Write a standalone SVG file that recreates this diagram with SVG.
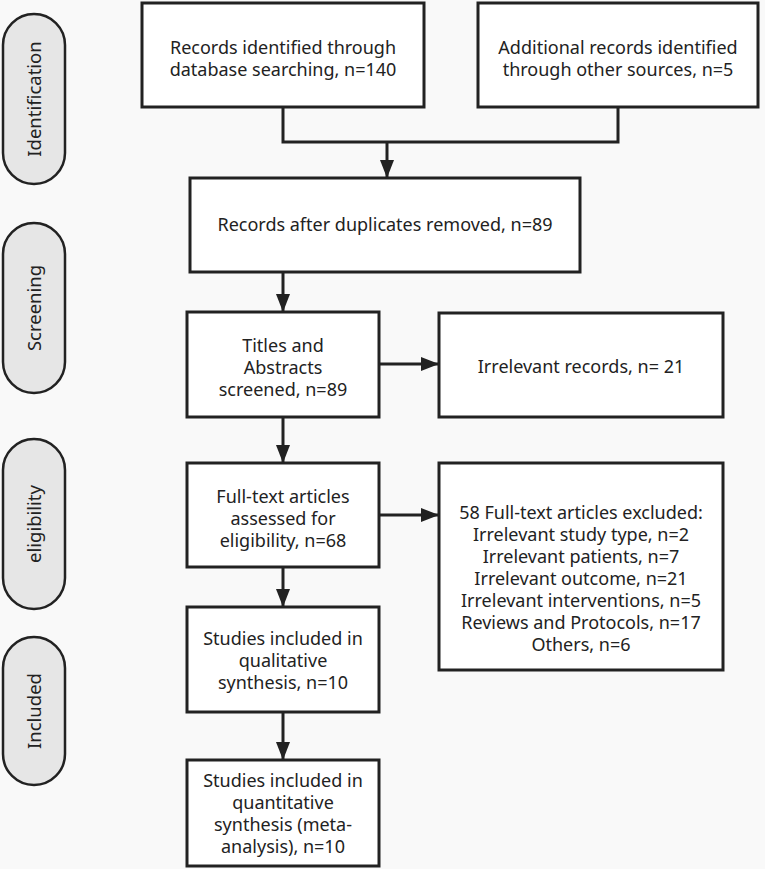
<svg xmlns="http://www.w3.org/2000/svg" width="765" height="869" viewBox="0 0 765 869">
<defs>
<style>
.bx{fill:#ffffff;stroke:#222;stroke-width:3}
.pill{fill:#e6e6e6;stroke:#222;stroke-width:2.5}
.t{font-family:"Noto Sans","Open Sans",sans-serif;font-size:18px;fill:#222;text-anchor:middle}
.s{font-family:"Noto Sans","Open Sans",sans-serif;font-size:18.5px;fill:#222;text-anchor:middle}
.ln{fill:none;stroke:#222;stroke-width:3}
</style>
<marker id="ah" viewBox="0 0 18 14" refX="18" refY="7" markerWidth="18" markerHeight="14" markerUnits="userSpaceOnUse" orient="auto">
<path d="M0,0 L18,7 L0,14 Z" fill="#222"/>
</marker>
</defs>
<rect width="765" height="869" fill="#f9f9f9"/>
<g id="stage-identification"><rect class="pill" x="3" y="14" width="62" height="170" rx="31"/><text class="s" transform="translate(41,99) rotate(-90)">Identification</text></g>
<g id="stage-screening"><rect class="pill" x="3" y="223" width="62" height="170" rx="31"/><text class="s" transform="translate(41,308) rotate(-90)">Screening</text></g>
<g id="stage-eligibility"><rect class="pill" x="3" y="439" width="62" height="170" rx="31"/><text class="s" transform="translate(41,524) rotate(-90)">eligibility</text></g>
<g id="stage-included"><rect class="pill" x="3" y="637" width="62" height="148" rx="31"/><text class="s" transform="translate(41,711) rotate(-90)">Included</text></g>

<g id="connectors">
<path class="ln" d="M283,107 V142 H618 V107"/>
<path class="ln" d="M387,142 V178" marker-end="url(#ah)"/>
<path class="ln" d="M283,272 V312" marker-end="url(#ah)"/>
<path class="ln" d="M379,364 H439" marker-end="url(#ah)"/>
<path class="ln" d="M283,417 V463" marker-end="url(#ah)"/>
<path class="ln" d="M379,515 H439" marker-end="url(#ah)"/>
<path class="ln" d="M283,567 V607" marker-end="url(#ah)"/>
<path class="ln" d="M283,712 V760" marker-end="url(#ah)"/>
</g>

<g id="n1"><rect class="bx" x="142" y="3" width="282" height="104"/><text class="t" x="283" y="54">Records identified through</text><text class="t" x="283" y="76">database searching, n=140</text></g>
<g id="n2"><rect class="bx" x="478" y="3" width="280" height="104"/><text class="t" x="618" y="54">Additional records identified</text><text class="t" x="618" y="76">through other sources, n=5</text></g>
<g id="n3"><rect class="bx" x="190" y="178" width="390" height="94"/><text class="t" x="385" y="231">Records after duplicates removed, n=89</text></g>
<g id="n4"><rect class="bx" x="187" y="312" width="192" height="105"/><text class="t" x="283" y="352">Titles and</text><text class="t" x="283" y="374">Abstracts</text><text class="t" x="283" y="396">screened, n=89</text></g>
<g id="n5"><rect class="bx" x="439" y="313" width="284" height="104"/><text class="t" x="581" y="373">Irrelevant records, n= 21</text></g>
<g id="n6"><rect class="bx" x="187" y="463" width="192" height="104"/><text class="t" x="283" y="503">Full-text articles</text><text class="t" x="283" y="525">assessed for</text><text class="t" x="283" y="547">eligibility, n=68</text></g>
<g id="n7"><rect class="bx" x="439" y="463" width="284" height="207"/>
<text class="t" x="581" y="519">58 Full-text articles excluded:</text>
<text class="t" x="581" y="541">Irrelevant study type, n=2</text>
<text class="t" x="581" y="563">Irrelevant patients, n=7</text>
<text class="t" x="581" y="585">Irrelevant outcome, n=21</text>
<text class="t" x="581" y="607">Irrelevant interventions, n=5</text>
<text class="t" x="581" y="629">Reviews and Protocols, n=17</text>
<text class="t" x="581" y="651">Others, n=6</text></g>
<g id="n8"><rect class="bx" x="187" y="607" width="192" height="105"/><text class="t" x="283" y="645">Studies included in</text><text class="t" x="283" y="667">qualitative</text><text class="t" x="283" y="689">synthesis, n=10</text></g>
<g id="n9"><rect class="bx" x="187" y="760" width="192" height="106"/><text class="t" x="283" y="787">Studies included in</text><text class="t" x="283" y="809">quantitative</text><text class="t" x="283" y="831">synthesis (meta-</text><text class="t" x="283" y="853">analysis), n=10</text></g>
</svg>
